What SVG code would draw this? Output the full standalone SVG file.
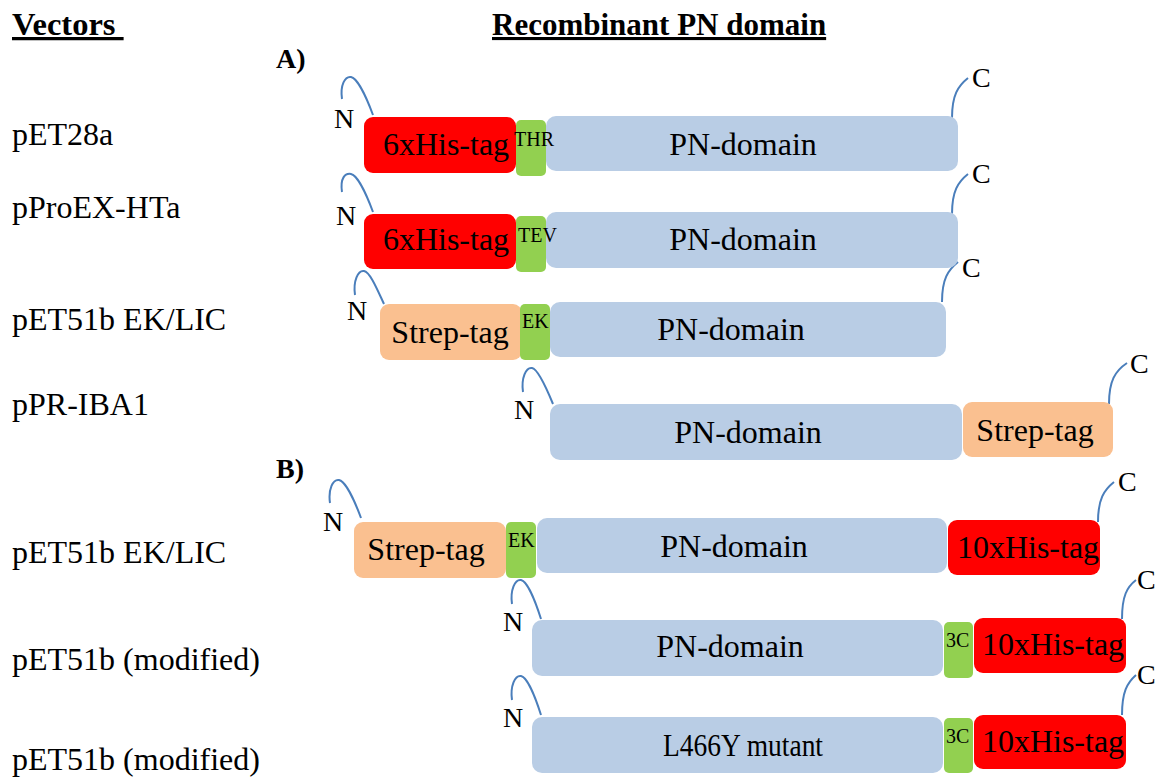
<svg xmlns="http://www.w3.org/2000/svg" width="1157" height="780" viewBox="0 0 1157 780">
<style>
text{font-family:"Liberation Serif","Times New Roman",serif;fill:#000}
.lbl{font-size:32px}
.hdr{font-size:31px;font-weight:bold;text-decoration:underline}
.sec{font-size:28px;font-weight:bold}
.nc{font-size:28px}
.sm{font-size:20px}
.his{fill:#ff0000}
.strep{fill:#fac090}
.cut{fill:#92d050}
.pn{fill:#b9cde5}
.tail{fill:none;stroke:#4a7ebb;stroke-width:2}
.mid{text-anchor:middle}
</style>
<rect width="1157" height="780" fill="#fff"/>
<text class="hdr" x="12" y="35" xml:space="preserve" style="font-size:32.5px">Vectors </text>
<text class="hdr" x="492" y="35">Recombinant PN domain</text>
<text class="sec" x="276" y="68">A)</text>
<text class="sec" x="276" y="478">B)</text>
<g id="vectors">
<text class="lbl" x="12" y="145">pET28a</text>
<text class="lbl" x="12" y="218">pProEX-HTa</text>
<text class="lbl" x="12" y="330">pET51b EK/LIC</text>
<text class="lbl" x="12" y="415">pPR-IBA1</text>
<text class="lbl" x="12" y="563">pET51b EK/LIC</text>
<text class="lbl" x="12" y="670">pET51b (modified)</text>
<text class="lbl" x="12" y="770">pET51b (modified)</text>
</g>
<g id="connectors">
<path class="tail" d="M342,99 C340,85 345,76 351,77 C357,78 366,96 373,115"/>
<path class="tail" d="M952,118 C952,95 958,86 968,78"/>
<path class="tail" d="M342,192 C340,178 345,173 351,174 C357,175 366,193 373,212"/>
<path class="tail" d="M952,214 C952,191 958,182 968,174"/>
<path class="tail" d="M355,295 C353,281 358,270 364,271 C370,272 377,289 384,304"/>
<path class="tail" d="M942,302 C942,279 948,270 958,262"/>
<path class="tail" d="M523,392 C521,378 526,367 532,368 C538,369 546,387 553,404"/>
<path class="tail" d="M1109,404 C1109,381 1115,371 1127,363"/>
<path class="tail" d="M330,503 C328,489 333,479 339,480 C345,481 354,499 361,518"/>
<path class="tail" d="M1098,522 C1098,499 1104,490 1114,482"/>
<path class="tail" d="M512,604 C510,590 515,579 521,580 C527,581 535,600 541,619"/>
<path class="tail" d="M1122,619 C1122,596 1127,587 1136,580"/>
<path class="tail" d="M512,700 C510,686 515,675 521,676 C527,677 535,696 541,715"/>
<path class="tail" d="M1122,715 C1122,692 1127,683 1136,675"/>
</g>
<g id="row1">
<text class="nc" x="334" y="128">N</text>
<rect class="his" x="364" y="117" width="152" height="56" rx="9"/>
<rect class="cut" x="516" y="120" width="30" height="56" rx="5"/>
<rect class="pn" x="546" y="116" width="412" height="55" rx="10"/>
<text class="lbl mid" x="446" y="155">6xHis-tag</text>
<text class="sm" x="514" y="146">THR</text>
<text class="lbl mid" x="743" y="155">PN-domain</text>
<text class="nc" x="972" y="87">C</text>
</g>
<g id="row2">
<text class="nc" x="336" y="225">N</text>
<rect class="his" x="364" y="214" width="152" height="55" rx="9"/>
<rect class="cut" x="516" y="216" width="30" height="56" rx="5"/>
<rect class="pn" x="546" y="212" width="412" height="56" rx="10"/>
<text class="lbl mid" x="446" y="250">6xHis-tag</text>
<text class="sm" x="518" y="242">TEV</text>
<text class="lbl mid" x="743" y="250">PN-domain</text>
<text class="nc" x="972" y="183">C</text>
</g>
<g id="row3">
<text class="nc" x="347" y="320">N</text>
<rect class="strep" x="380" y="304" width="142" height="56" rx="9"/>
<rect class="cut" x="520" y="304" width="30" height="56" rx="5"/>
<rect class="pn" x="550" y="302" width="396" height="55" rx="10"/>
<text class="lbl mid" x="450" y="343">Strep-tag</text>
<text class="sm" x="522" y="328">EK</text>
<text class="lbl mid" x="731" y="340">PN-domain</text>
<text class="nc" x="962" y="277">C</text>
</g>
<g id="row4">
<text class="nc" x="514" y="419">N</text>
<rect class="pn" x="550" y="404" width="412" height="56" rx="10"/>
<rect class="strep" x="963" y="402" width="150" height="55" rx="9"/>
<text class="lbl mid" x="748" y="443">PN-domain</text>
<text class="lbl mid" x="1035" y="441">Strep-tag</text>
<text class="nc" x="1130" y="373">C</text>
</g>
<g id="row5">
<text class="nc" x="323" y="531">N</text>
<rect class="strep" x="354" y="522" width="152" height="56" rx="9"/>
<rect class="cut" x="506" y="522" width="30" height="56" rx="5"/>
<rect class="pn" x="537" y="518" width="410" height="55" rx="10"/>
<rect class="his" x="948" y="520" width="152" height="55" rx="9"/>
<text class="lbl mid" x="426" y="560">Strep-tag</text>
<text class="sm" x="508" y="547">EK</text>
<text class="lbl mid" x="734" y="557">PN-domain</text>
<text class="lbl mid" x="1028" y="558">10xHis-tag</text>
<text class="nc" x="1118" y="491">C</text>
</g>
<g id="row6">
<text class="nc" x="503" y="631">N</text>
<rect class="pn" x="532" y="620" width="411" height="56" rx="10"/>
<rect class="cut" x="944" y="622" width="29" height="56" rx="5"/>
<rect class="his" x="974" y="618" width="152" height="55" rx="9"/>
<text class="lbl mid" x="730" y="657">PN-domain</text>
<text class="sm" x="946" y="647">3C</text>
<text class="lbl mid" x="1053" y="655">10xHis-tag</text>
<text class="nc" x="1137" y="589">C</text>
</g>
<g id="row7">
<text class="nc" x="503" y="727">N</text>
<rect class="pn" x="532" y="717" width="411" height="56" rx="10"/>
<rect class="cut" x="944" y="718" width="29" height="55" rx="5"/>
<rect class="his" x="974" y="715" width="152" height="54" rx="9"/>
<text class="lbl mid" x="743" y="756" textLength="160" lengthAdjust="spacingAndGlyphs">L466Y mutant</text>
<text class="sm" x="946" y="743">3C</text>
<text class="lbl mid" x="1053" y="752">10xHis-tag</text>
<text class="nc" x="1137" y="684">C</text>
</g>
</svg>
